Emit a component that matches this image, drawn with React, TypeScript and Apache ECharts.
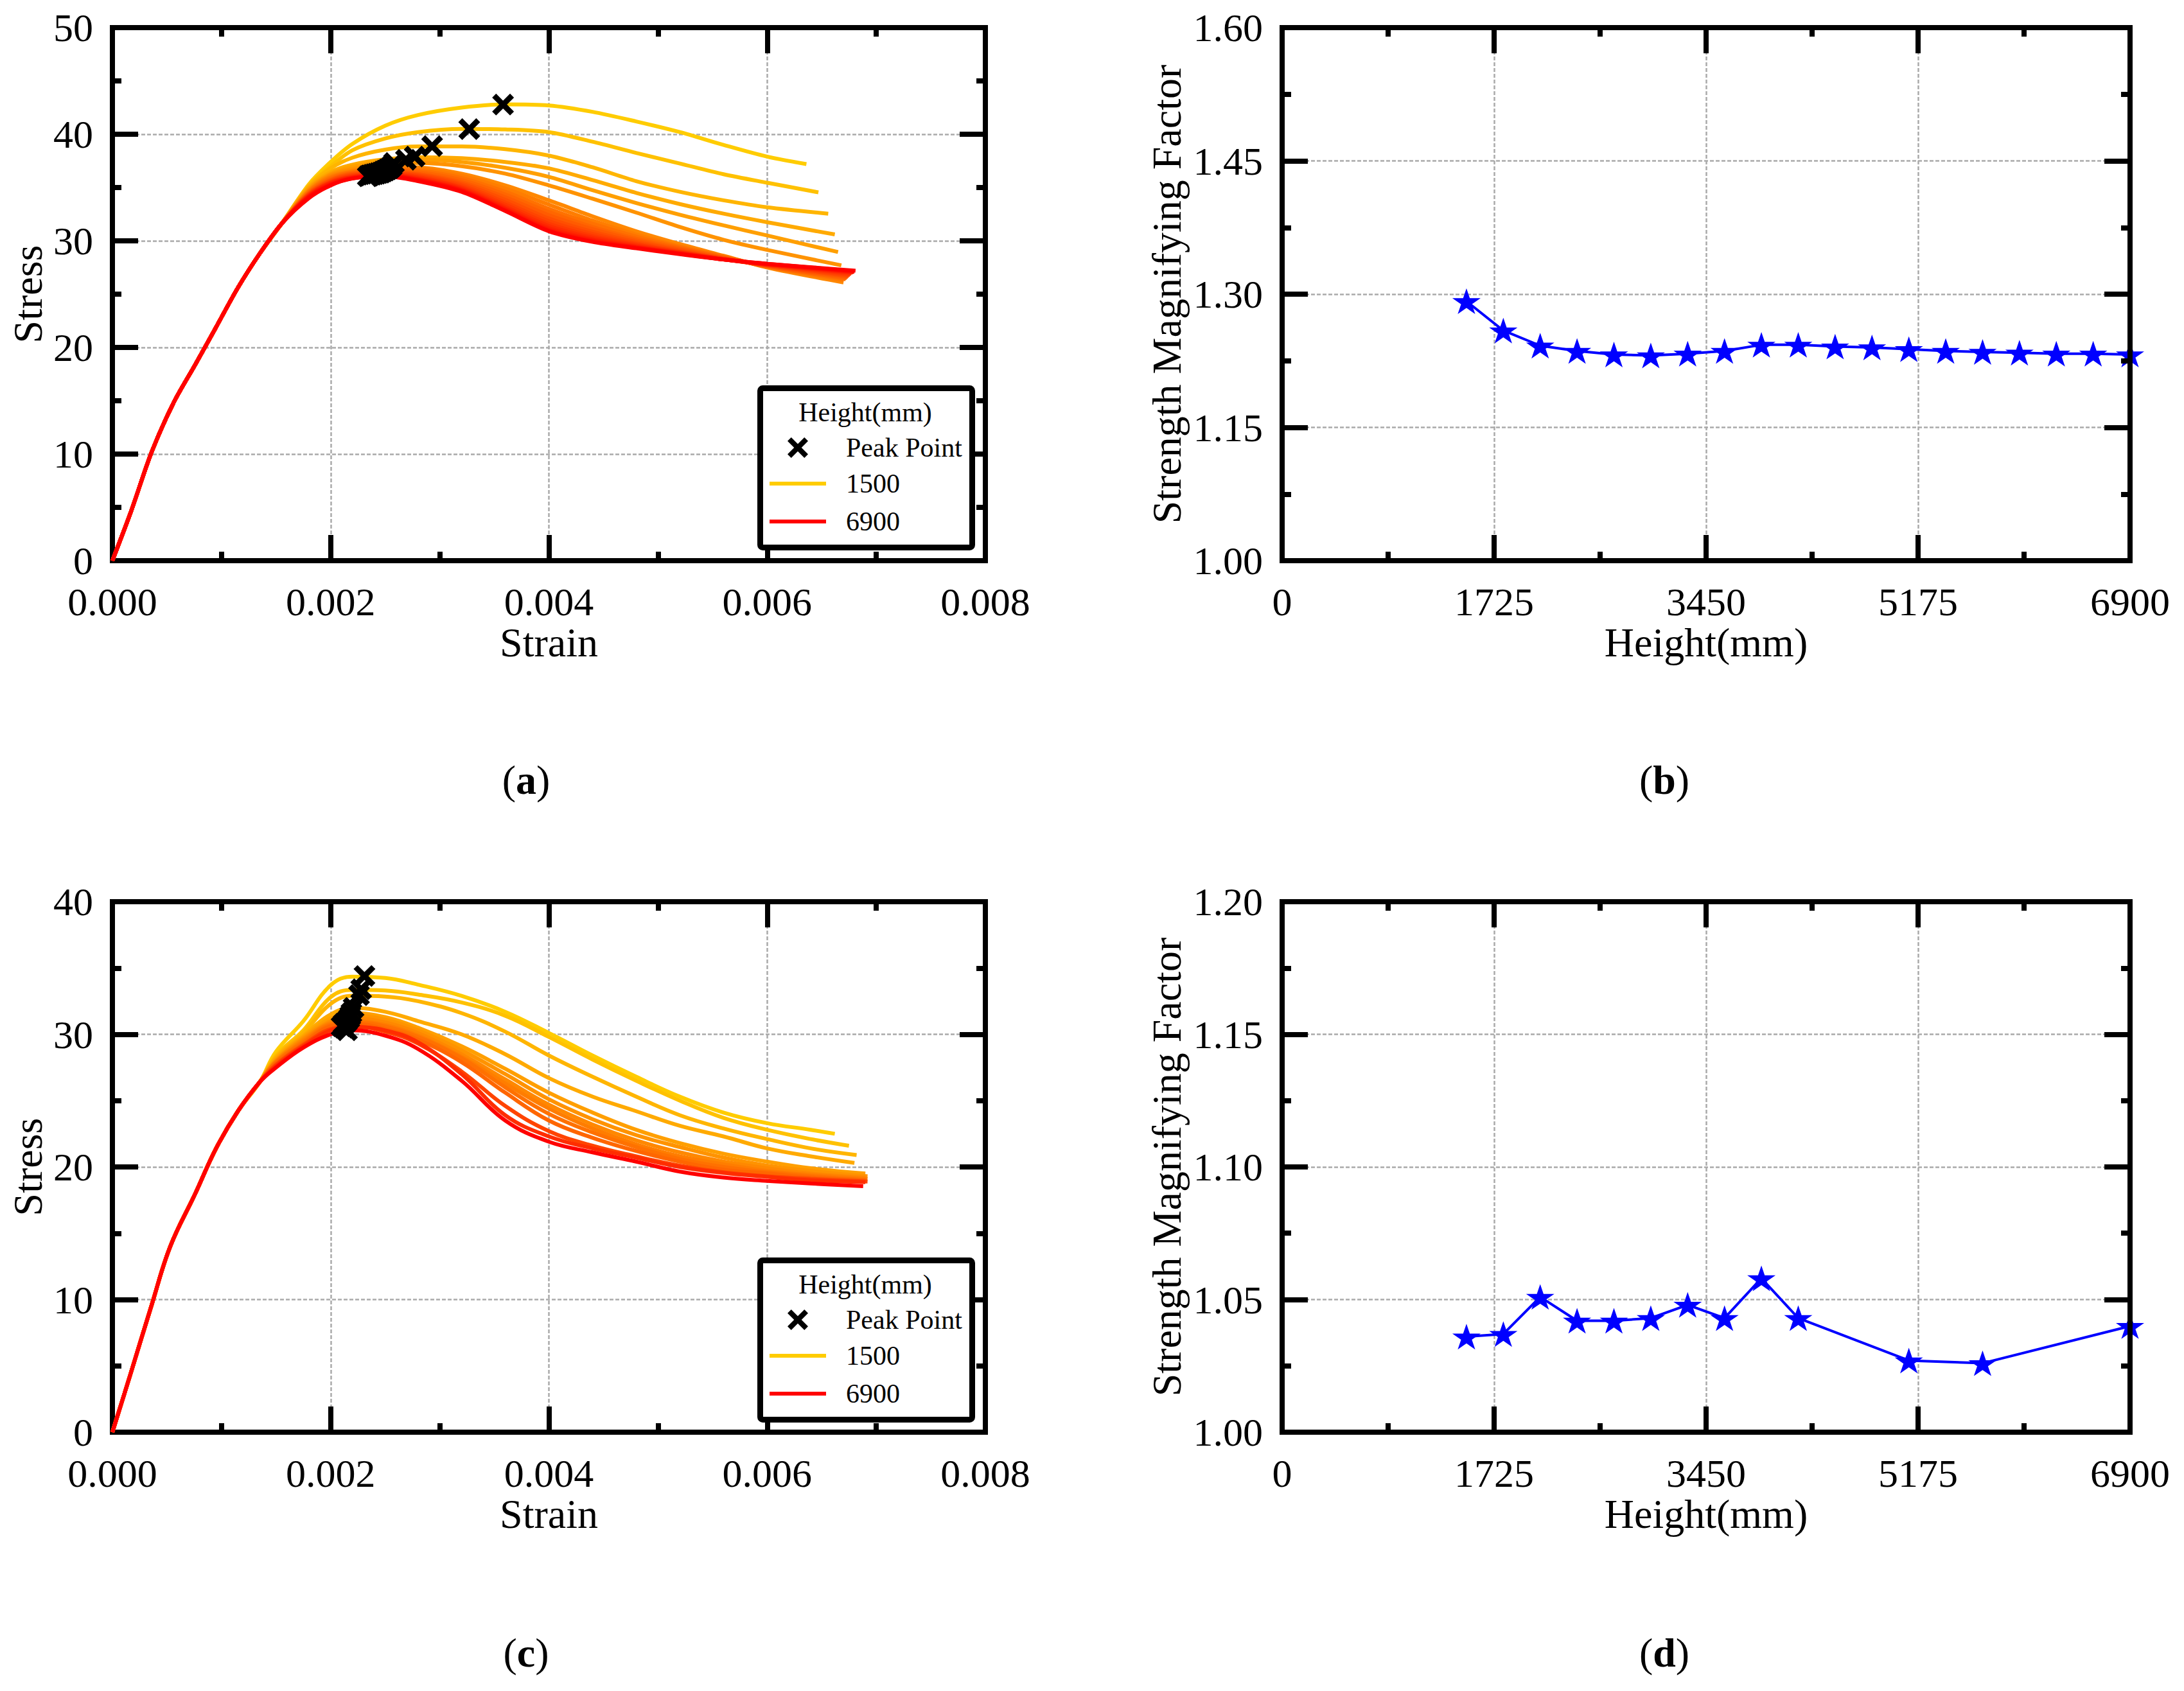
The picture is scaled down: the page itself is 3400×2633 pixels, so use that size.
import React, { useEffect, useRef } from 'react';
import * as echarts from 'echarts';

// ---------- Panel (a): stress-strain curves, heights 1500..6900 ----------
const heightsA = [1500, 1800, 2100, 2400, 2700, 3000, 3300, 3600, 3900, 4200, 4500, 4800, 5100, 5400, 5700, 6000, 6300, 6600, 6900];
const strainRiseA = [0, 0.00017, 0.00036, 0.00056, 0.00076, 0.00095, 0.00115, 0.00135, 0.00155];
const stressRiseA = [0, 4.6, 10.2, 14.8, 18.4, 21.9, 25.6, 28.8, 31.6];
const strainGridA = [0.0018, 0.002, 0.0022, 0.0025, 0.0028, 0.0032, 0.0036, 0.004, 0.0044, 0.0048, 0.0052, 0.0056, 0.006];
const a1500 = [35.3, 37.4, 39.1, 40.8, 41.8, 42.5, 42.8, 42.7, 42.1, 41.2, 40.2, 39.0, 37.9];
const a1800 = [35.2, 37.0, 38.5, 39.6, 40.2, 40.5, 40.45, 40.2, 39.3, 38.25, 37.25, 36.25, 35.45];
const a2100 = [35.1, 36.8, 37.8, 38.55, 38.85, 38.85, 38.6, 38.0, 36.9, 35.6, 34.6, 33.8, 33.15];
const a2400 = [35.0, 36.45, 37.15, 37.65, 37.85, 37.75, 37.4, 36.8, 35.7, 34.5, 33.45, 32.55, 31.75];
const a2700 = [34.9, 36.3, 36.95, 37.45, 37.6, 37.4, 36.85, 36.0, 34.75, 33.55, 32.45, 31.45, 30.5];
const a3000 = [34.8, 36.2, 36.75, 37.2, 37.3, 37.0, 36.3, 35.2, 33.95, 32.65, 31.3, 30.1, 29.15];
const a3300 = [34.7, 36.1, 36.6, 36.95, 36.9, 36.3, 35.2, 33.8, 32.3, 30.9, 29.7, 28.6, 27.5];
const a3600 = [34.65, 36.0, 36.5, 36.8, 36.75, 36.1, 34.9, 33.4, 31.9, 30.6, 29.5, 28.55, 27.55];
const a3900 = [34.6, 35.9, 36.45, 36.7, 36.6, 35.9, 34.6, 33.0, 31.6, 30.4, 29.4, 28.5, 27.6];
const a4200 = [34.5, 35.8, 36.35, 36.6, 36.45, 35.7, 34.35, 32.7, 31.3, 30.2, 29.3, 28.45, 27.6];
const a4500 = [34.45, 35.7, 36.3, 36.5, 36.3, 35.5, 34.1, 32.4, 31.1, 30.05, 29.2, 28.4, 27.65];
const a4800 = [34.4, 35.65, 36.2, 36.4, 36.2, 35.35, 33.85, 32.1, 30.85, 29.9, 29.1, 28.35, 27.7];
const a5100 = [34.35, 35.55, 36.15, 36.35, 36.1, 35.2, 33.6, 31.85, 30.65, 29.75, 29.0, 28.3, 27.7];
const a5400 = [34.3, 35.5, 36.05, 36.3, 36.0, 35.05, 33.4, 31.6, 30.45, 29.65, 28.95, 28.3, 27.75];
const a5700 = [34.25, 35.45, 36.0, 36.25, 35.9, 34.95, 33.2, 31.4, 30.3, 29.55, 28.9, 28.3, 27.75];
const a6000 = [34.2, 35.4, 35.95, 36.2, 35.8, 34.85, 33.05, 31.2, 30.15, 29.45, 28.85, 28.25, 27.8];
const a6300 = [34.15, 35.3, 35.9, 36.15, 35.75, 34.75, 32.95, 31.05, 30.05, 29.4, 28.8, 28.25, 27.8];
const a6600 = [34.1, 35.25, 35.85, 36.1, 35.7, 34.7, 32.85, 30.95, 29.95, 29.35, 28.8, 28.25, 27.85];
const a6900 = [34.0, 35.2, 35.85, 36.05, 35.6, 34.6, 32.8, 30.9, 29.9, 29.3, 28.75, 28.25, 27.85];
const endStrainA = [0.00636, 0.00647, 0.00656, 0.00662, 0.00665, 0.00668, 0.0067, 0.0067, 0.00672, 0.00673, 0.00674, 0.00675, 0.00676, 0.00677, 0.00678, 0.00679, 0.0068, 0.0068, 0.00681];
const endStressA = [37.2, 34.55, 32.55, 30.6, 28.95, 27.7, 26.1, 26.3, 26.4, 26.5, 26.6, 26.7, 26.8, 26.9, 27.0, 27.05, 27.1, 27.15, 27.2];
const peakStrainA = [0.00358, 0.00327, 0.00293, 0.00277, 0.00269, 0.00258, 0.00256, 0.00254, 0.00252, 0.0025, 0.00248, 0.00246, 0.00244, 0.00242, 0.0024, 0.00238, 0.00236, 0.00235, 0.00234];
const peakStressA = [42.78, 40.48, 38.88, 37.9, 37.6, 37.3, 37.0, 36.8, 36.7, 36.6, 36.5, 36.4, 36.35, 36.3, 36.25, 36.2, 36.15, 36.1, 36.05];

// ---------- Panel (b): strength magnifying factor ----------
const smfHeightsB = [1500, 1800, 2100, 2400, 2700, 3000, 3300, 3600, 3900, 4200, 4500, 4800, 5100, 5400, 5700, 6000, 6300, 6600, 6900];
const smfB = [1.292, 1.259, 1.242, 1.236, 1.232, 1.231, 1.233, 1.236, 1.243, 1.243, 1.241, 1.24, 1.238, 1.236, 1.235, 1.234, 1.233, 1.233, 1.232];

// ---------- Panel (c): stress-strain curves ----------
const heightsC = [1500, 1800, 2100, 2400, 2700, 3000, 3300, 3600, 3900, 4200, 5100, 5700, 6900];
const strainRiseC = [0, 0.00017, 0.00036, 0.00053, 0.00076, 0.00095, 0.00115, 0.00135];
const stressRiseC = [0, 4.5, 9.6, 14.0, 18.0, 21.4, 24.2, 26.4];
const strainGridC = [0.0015, 0.00175, 0.002, 0.0022, 0.0025, 0.0028, 0.0032, 0.0036, 0.004, 0.0044, 0.0048, 0.0052, 0.0056, 0.006, 0.0064];
const c1500 = [28.7, 31.0, 33.7, 34.35, 34.25, 33.75, 32.9, 31.7, 30.1, 28.4, 26.8, 25.3, 24.1, 23.3, 22.8];
const c1800 = [28.4, 30.3, 32.8, 33.35, 33.3, 33.0, 32.4, 31.4, 29.8, 28.1, 26.5, 25.0, 23.7, 22.8, 22.1];
const c2100 = [28.3, 30.1, 32.3, 32.9, 32.85, 32.5, 31.6, 30.2, 28.4, 26.8, 25.3, 23.9, 22.9, 22.1, 21.4];
const c2400 = [28.2, 29.9, 31.5, 32.0, 31.7, 31.0, 30.0, 28.5, 26.7, 25.3, 24.2, 23.1, 22.3, 21.4, 20.8];
const c2700 = [28.1, 29.8, 31.2, 31.6, 31.3, 30.5, 29.1, 27.4, 25.6, 24.1, 22.8, 21.8, 21.0, 20.4, 19.9];
const c3000 = [28.0, 29.7, 31.0, 31.4, 31.1, 30.3, 28.8, 27.0, 25.1, 23.6, 22.4, 21.5, 20.7, 20.1, 19.7];
const c3300 = [28.0, 29.6, 30.9, 31.2, 30.9, 30.1, 28.5, 26.6, 24.7, 23.2, 22.0, 21.1, 20.4, 19.9, 19.5];
const c3600 = [27.9, 29.5, 30.8, 31.0, 30.7, 29.9, 28.3, 26.3, 24.4, 22.9, 21.7, 20.8, 20.2, 19.7, 19.4];
const c3900 = [27.9, 29.4, 30.7, 30.9, 30.6, 29.8, 28.2, 26.0, 24.0, 22.6, 21.5, 20.6, 20.0, 19.6, 19.3];
const c4200 = [27.8, 29.3, 30.6, 30.8, 30.4, 29.6, 27.9, 25.6, 23.5, 22.2, 21.2, 20.4, 19.8, 19.5, 19.2];
const c5100 = [27.7, 29.2, 30.4, 30.6, 30.2, 29.3, 27.2, 24.6, 22.7, 21.6, 20.8, 20.1, 19.6, 19.3, 19.1];
const c5700 = [27.6, 29.1, 30.3, 30.55, 30.3, 29.4, 27.0, 23.9, 22.3, 21.4, 20.7, 20.0, 19.55, 19.25, 19.0];
const c6900 = [27.5, 29.0, 30.0, 30.3, 29.9, 28.9, 26.5, 23.5, 21.9, 21.1, 20.4, 19.65, 19.2, 18.95, 18.75];
const endStrainC = [0.00662, 0.00675, 0.00682, 0.0068, 0.0069, 0.00692, 0.0069, 0.00692, 0.00691, 0.0069, 0.00692, 0.0069, 0.00688];
const endStressC = [22.5, 21.6, 20.9, 20.3, 19.5, 19.3, 19.2, 19.1, 19.0, 19.0, 18.9, 18.85, 18.55];
const peakStrainC = [0.00231, 0.00228, 0.00226, 0.00221, 0.00219, 0.00218, 0.00217, 0.00215, 0.00214, 0.00212, 0.0021, 0.00212, 0.00215];
const peakStressC = [34.4, 33.4, 32.95, 32.0, 31.6, 31.4, 31.2, 31.0, 30.9, 30.8, 30.6, 30.5, 30.3];

// ---------- Panel (d): strength magnifying factor ----------
const smfHeightsD = [1500, 1800, 2100, 2400, 2700, 3000, 3300, 3600, 3900, 4200, 5100, 5700, 6900];
const smfD = [1.036, 1.037, 1.051, 1.042, 1.042, 1.043, 1.048, 1.043, 1.058, 1.043, 1.027, 1.026, 1.04];

const curvesA = [a1500, a1800, a2100, a2400, a2700, a3000, a3300, a3600, a3900, a4200, a4500, a4800, a5100, a5400, a5700, a6000, a6300, a6600, a6900];
const curvesC = [c1500, c1800, c2100, c2400, c2700, c3000, c3300, c3600, c3900, c4200, c5100, c5700, c6900];

const FONT = "'Liberation Serif', 'Times New Roman', serif";
const X_PATH = 'path://M1.8,0 L5,3.2 L8.2,0 L10,1.8 L6.8,5 L10,8.2 L8.2,10 L5,6.8 L1.8,10 L0,8.2 L3.2,5 L0,1.8 Z';
const STAR_PATH = 'path://M10,0 L12.245,6.91 L19.51,6.91 L13.63,11.18 L15.88,18.09 L10,13.82 L4.12,18.09 L6.37,11.18 L0.49,6.91 L7.755,6.91 Z';

// autumn-like colour scale: gold (1500) -> red (6900)
function heightColor(h: number) {
  const g = Math.round(255 * 0.8 * (6900 - h) / 5400);
  return `rgb(255,${g},0)`;
}

function buildCurve(rx: number[], ry: number[], gx: number[], gy: number[], ex: number, ey: number) {
  const pts: number[][] = [];
  rx.forEach((x, i) => pts.push([x, ry[i]]));
  gx.forEach((x, i) => pts.push([x, gy[i]]));
  pts.push([ex, ey]);
  return pts;
}

const grids = [
  { left: 175, top: 43, width: 1359, height: 830 },
  { left: 1996, top: 43, width: 1320, height: 830 },
  { left: 175, top: 1404, width: 1359, height: 826 },
  { left: 1996, top: 1404, width: 1320, height: 826 },
];

const black = '#000';
const axisLineStyle = { color: black, width: 8, cap: 'square' as const };

function mainAxis(kind: 'x' | 'y', gi: number, min: number, max: number, interval: number, fmt: (v: number) => string, name: string, nameGap: number) {
  return {
    type: 'value',
    gridIndex: gi,
    position: kind === 'x' ? 'bottom' : 'left',
    min, max, interval,
    name,
    nameLocation: 'middle',
    nameGap,
    nameMoveOverlap: false,
    nameTextStyle: { fontFamily: FONT, fontSize: 64, color: black, lineHeight: 60 },
    axisLine: { show: true, onZero: false, lineStyle: axisLineStyle },
    axisTick: { show: true, inside: true, length: 40, lineStyle: { color: black, width: 8 } },
    minorTick: { show: true, splitNumber: 2, length: 14, lineStyle: { color: black, width: 8 } },
    axisLabel: {
      show: true, fontFamily: FONT, fontSize: 62, color: black,
      margin: kind === 'x' ? 36 : 30,
      lineHeight: kind === 'x' ? 56 : 44,
      formatter: fmt,
    },
    splitLine: { show: true, lineStyle: { color: '#aaaaaa', width: 2.5, type: [6, 3] } },
    minorSplitLine: { show: false },
  };
}

function mirrorAxis(kind: 'x' | 'y', gi: number, min: number, max: number, interval: number) {
  return {
    type: 'value',
    gridIndex: gi,
    position: kind === 'x' ? 'top' : 'right',
    min, max, interval,
    z: 5,
    axisLine: { show: true, onZero: false, lineStyle: axisLineStyle },
    axisTick: { show: true, inside: true, length: 40, lineStyle: { color: black, width: 8 } },
    minorTick: { show: true, splitNumber: 2, length: 14, lineStyle: { color: black, width: 8 } },
    axisLabel: { show: false },
    splitLine: { show: false },
  };
}

function legendGraphic(L: number, T: number) {
  const s = 32;
  const cx = L + 63;
  const cy = T + 97;
  const xPts = [[1.8, 0], [5, 3.2], [8.2, 0], [10, 1.8], [6.8, 5], [10, 8.2], [8.2, 10], [5, 6.8], [1.8, 10], [0, 8.2], [3.2, 5], [0, 1.8]]
    .map(([px, py]) => [cx - s / 2 + px * s / 10, cy - s / 2 + py * s / 10]);
  const txt = (x: number, y: number, text: string, align: string) => ({
    type: 'text', x, y, z: 101,
    style: { text, fontFamily: FONT, fontSize: 42, fill: black, align, verticalAlign: 'middle' },
  });
  return [
    { type: 'rect', z: 100, shape: { x: L + 4.5, y: T + 4.5, width: 330, height: 248, r: 4 }, style: { fill: '#fff', stroke: black, lineWidth: 9 } },
    txt(L + 168, T + 42, 'Height(mm)', 'center'),
    { type: 'polygon', z: 101, shape: { points: xPts }, style: { fill: black } },
    txt(L + 138, T + 97, 'Peak Point', 'left'),
    { type: 'line', z: 101, shape: { x1: L + 19, y1: T + 153, x2: L + 107, y2: T + 153 }, style: { stroke: heightColor(1500), lineWidth: 6 } },
    txt(L + 138, T + 153, '1500', 'left'),
    { type: 'line', z: 101, shape: { x1: L + 19, y1: T + 212, x2: L + 107, y2: T + 212 }, style: { stroke: heightColor(6900), lineWidth: 6 } },
    txt(L + 138, T + 212, '6900', 'left'),
  ];
}

function panelLabel(x: number, y: number, letter: string) {
  return {
    type: 'text', x, y, z: 100,
    style: {
      text: `{n|(}{b|${letter}}{n|)}`,
      align: 'center', verticalAlign: 'middle',
      rich: {
        n: { fontFamily: FONT, fontSize: 64, fill: black, fontWeight: 'normal' },
        b: { fontFamily: FONT, fontSize: 64, fill: black, fontWeight: 'bold' },
      },
    },
  };
}

export default function App() {
  const ref = useRef<HTMLDivElement>(null);
  useEffect(() => {
    document.body.style.margin = '0';
    if (!ref.current) return;
    const chart = echarts.init(ref.current, null, { renderer: 'svg' });

    const f3 = (v: number) => v.toFixed(3);
    const f0 = (v: number) => String(Math.round(v));
    const f2 = (v: number) => v.toFixed(2);

    const xAxis = [
      mainAxis('x', 0, 0, 0.008, 0.002, f3, 'Strain', 97),
      mainAxis('x', 1, 0, 6900, 1725, f0, 'Height(mm)', 97),
      mainAxis('x', 2, 0, 0.008, 0.002, f3, 'Strain', 97),
      mainAxis('x', 3, 0, 6900, 1725, f0, 'Height(mm)', 97),
      mirrorAxis('x', 0, 0, 0.008, 0.002),
      mirrorAxis('x', 1, 0, 6900, 1725),
      mirrorAxis('x', 2, 0, 0.008, 0.002),
      mirrorAxis('x', 3, 0, 6900, 1725),
    ];
    const yAxis = [
      mainAxis('y', 0, 0, 50, 10, f0, 'Stress', 102),
      mainAxis('y', 1, 1.0, 1.6, 0.15, f2, 'Strength Magnifying Factor', 150),
      mainAxis('y', 2, 0, 40, 10, f0, 'Stress', 102),
      mainAxis('y', 3, 1.0, 1.2, 0.05, f2, 'Strength Magnifying Factor', 150),
      mirrorAxis('y', 0, 0, 50, 10),
      mirrorAxis('y', 1, 1.0, 1.6, 0.15),
      mirrorAxis('y', 2, 0, 40, 10),
      mirrorAxis('y', 3, 1.0, 1.2, 0.05),
    ];

    const series: any[] = [];
    curvesA.forEach((c, i) => {
      series.push({
        type: 'line', name: String(heightsA[i]), xAxisIndex: 0, yAxisIndex: 0,
        data: buildCurve(strainRiseA, stressRiseA, strainGridA, c, endStrainA[i], endStressA[i]),
        symbol: 'none', showSymbol: false, smooth: 0.3, z: 2,
        lineStyle: { color: heightColor(heightsA[i]), width: 6 }, silent: true,
      });
    });
    series.push({
      type: 'scatter', name: 'Peak Point', xAxisIndex: 0, yAxisIndex: 0, z: 3,
      data: peakStrainA.map((x, i) => [x, peakStressA[i]]),
      symbol: X_PATH, symbolSize: 34, itemStyle: { color: black, opacity: 1 },
    });
    curvesC.forEach((c, i) => {
      series.push({
        type: 'line', name: String(heightsC[i]), xAxisIndex: 2, yAxisIndex: 2,
        data: buildCurve(strainRiseC, stressRiseC, strainGridC, c, endStrainC[i], endStressC[i]),
        symbol: 'none', showSymbol: false, smooth: 0.4, z: 2,
        lineStyle: { color: heightColor(heightsC[i]), width: 6 }, silent: true,
      });
    });
    series.push({
      type: 'scatter', name: 'Peak Point', xAxisIndex: 2, yAxisIndex: 2, z: 3,
      data: peakStrainC.map((x, i) => [x, peakStressC[i]]),
      symbol: X_PATH, symbolSize: 34, itemStyle: { color: black, opacity: 1 },
    });
    const smfSeries = (xi: number, hs: number[], vs: number[]) => ({
      type: 'line', xAxisIndex: xi, yAxisIndex: xi, z: 2,
      data: hs.map((h, i) => [h, vs[i]]),
      symbol: STAR_PATH, symbolSize: [44, 42], symbolKeepAspect: true, showAllSymbol: true,
      lineStyle: { color: '#0000ff', width: 4 }, itemStyle: { color: '#0000ff', opacity: 1 },
    });
    series.push(smfSeries(1, smfHeightsB, smfB));
    series.push(smfSeries(3, smfHeightsD, smfD));

    chart.setOption({
      animation: false,
      backgroundColor: '#fff',
      grid: grids,
      xAxis,
      yAxis,
      series,
      graphic: [
        ...legendGraphic(1179, 600),
        ...legendGraphic(1179, 1958),
        panelLabel(819, 1214, 'a'),
        panelLabel(2591, 1214, 'b'),
        panelLabel(819, 2573, 'c'),
        panelLabel(2591, 2573, 'd'),
      ],
    });
    return () => chart.dispose();
  }, []);
  return <div ref={ref} style={{ width: 3400, height: 2633 }} />;
}
